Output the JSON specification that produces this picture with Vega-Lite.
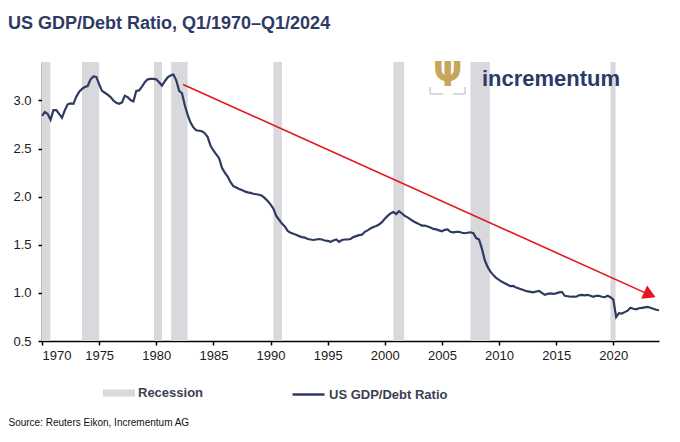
{
  "$schema": "https://vega.github.io/schema/vega-lite/v6.json",
  "width": 617,
  "height": 279,
  "autosize": {"type": "none"},
  "padding": {"left": 42, "top": 62, "right": 21, "bottom": 101},
  "background": "white",
  "title": {
    "text": "US GDP/Debt Ratio, Q1/1970–Q1/2024",
    "anchor": "start",
    "frame": "bounds",
    "font": "Liberation Sans",
    "fontSize": 18,
    "fontWeight": "bold",
    "color": "#2d3a64",
    "baseline": "alphabetic",
    "offset": 12
  },
  "config": {
    "view": {"stroke": null},
    "axis": {
      "grid": false,
      "domainColor": "#000000",
      "domainWidth": 1.5,
      "tickColor": "#000000",
      "tickWidth": 1.5,
      "tickSize": 4,
      "labelFont": "Liberation Sans",
      "labelFontSize": 13,
      "labelColor": "#1a1a1a"
    }
  },
  "layer": [
    {
      "data": {"values": [
        {"start": 1970.0, "end": 1970.73},
        {"start": 1973.5, "end": 1975.0},
        {"start": 1979.8, "end": 1980.5},
        {"start": 1981.3, "end": 1982.75},
        {"start": 1990.25, "end": 1991.0},
        {"start": 2000.75, "end": 2001.7},
        {"start": 2007.5, "end": 2009.2},
        {"start": 2019.75, "end": 2020.2}
      ]},
      "mark": {"type": "rect"},
      "encoding": {
        "x": {"field": "start", "type": "quantitative", "scale": {"domain": [1970, 2024], "nice": false, "zero": false}},
        "x2": {"field": "end"},
        "fill": {
          "datum": "Recession",
          "scale": {"range": ["#d9d8dd"]},
          "legend": {
            "title": null, "orient": "none", "legendX": 61, "legendY": 315,
            "symbolType": "M-1,-0.22H1V0.22H-1Z", "symbolSize": 1024, "symbolStrokeWidth": 0,
            "labelFont": "Liberation Sans", "labelFontWeight": "bold", "labelFontSize": 13,
            "labelColor": "#3b3f50", "labelOffset": 3, "padding": 0
          }
        }
      }
    },
    {
      "data": {"values": [
        {"year":1970.00,"ratio":2.84},{"year":1970.25,"ratio":2.88},{"year":1970.50,"ratio":2.86},{"year":1970.75,"ratio":2.80},
        {"year":1971.00,"ratio":2.90},{"year":1971.25,"ratio":2.90},{"year":1971.50,"ratio":2.86},{"year":1971.75,"ratio":2.82},
        {"year":1972.00,"ratio":2.90},{"year":1972.25,"ratio":2.96},{"year":1972.50,"ratio":2.97},{"year":1972.75,"ratio":2.965},
        {"year":1973.00,"ratio":3.04},{"year":1973.25,"ratio":3.09},{"year":1973.50,"ratio":3.12},{"year":1973.75,"ratio":3.14},
        {"year":1974.00,"ratio":3.15},{"year":1974.25,"ratio":3.22},{"year":1974.50,"ratio":3.25},{"year":1974.75,"ratio":3.245},
        {"year":1975.00,"ratio":3.17},{"year":1975.25,"ratio":3.10},{"year":1975.50,"ratio":3.08},{"year":1975.75,"ratio":3.06},
        {"year":1976.00,"ratio":3.035},{"year":1976.25,"ratio":3.00},{"year":1976.50,"ratio":2.975},{"year":1976.75,"ratio":2.965},
        {"year":1977.00,"ratio":2.98},{"year":1977.25,"ratio":3.05},{"year":1977.50,"ratio":3.035},{"year":1977.75,"ratio":3.005},
        {"year":1978.00,"ratio":2.99},{"year":1978.25,"ratio":3.10},{"year":1978.50,"ratio":3.105},{"year":1978.75,"ratio":3.145},
        {"year":1979.00,"ratio":3.19},{"year":1979.25,"ratio":3.22},{"year":1979.50,"ratio":3.225},{"year":1979.75,"ratio":3.225},
        {"year":1980.00,"ratio":3.22},{"year":1980.25,"ratio":3.19},{"year":1980.50,"ratio":3.155},{"year":1980.75,"ratio":3.20},
        {"year":1981.00,"ratio":3.24},{"year":1981.25,"ratio":3.26},{"year":1981.50,"ratio":3.27},{"year":1981.75,"ratio":3.21},
        {"year":1982.00,"ratio":3.10},{"year":1982.25,"ratio":3.075},{"year":1982.50,"ratio":2.95},{"year":1982.75,"ratio":2.85},
        {"year":1983.00,"ratio":2.77},{"year":1983.25,"ratio":2.72},{"year":1983.50,"ratio":2.69},{"year":1983.75,"ratio":2.685},
        {"year":1984.00,"ratio":2.68},{"year":1984.25,"ratio":2.66},{"year":1984.50,"ratio":2.62},{"year":1984.75,"ratio":2.53},
        {"year":1985.00,"ratio":2.48},{"year":1985.25,"ratio":2.44},{"year":1985.50,"ratio":2.40},{"year":1985.75,"ratio":2.30},
        {"year":1986.00,"ratio":2.25},{"year":1986.25,"ratio":2.21},{"year":1986.50,"ratio":2.15},{"year":1986.75,"ratio":2.11},
        {"year":1987.00,"ratio":2.095},{"year":1987.25,"ratio":2.08},{"year":1987.50,"ratio":2.07},{"year":1987.75,"ratio":2.055},
        {"year":1988.00,"ratio":2.045},{"year":1988.25,"ratio":2.04},{"year":1988.50,"ratio":2.03},{"year":1988.75,"ratio":2.025},
        {"year":1989.00,"ratio":2.02},{"year":1989.25,"ratio":2.01},{"year":1989.50,"ratio":1.985},{"year":1989.75,"ratio":1.955},
        {"year":1990.00,"ratio":1.92},{"year":1990.25,"ratio":1.875},{"year":1990.50,"ratio":1.80},{"year":1990.75,"ratio":1.76},
        {"year":1991.00,"ratio":1.72},{"year":1991.25,"ratio":1.69},{"year":1991.50,"ratio":1.645},{"year":1991.75,"ratio":1.625},
        {"year":1992.00,"ratio":1.615},{"year":1992.25,"ratio":1.605},{"year":1992.50,"ratio":1.59},{"year":1992.75,"ratio":1.58},
        {"year":1993.00,"ratio":1.575},{"year":1993.25,"ratio":1.56},{"year":1993.50,"ratio":1.555},{"year":1993.75,"ratio":1.55},
        {"year":1994.00,"ratio":1.555},{"year":1994.25,"ratio":1.56},{"year":1994.50,"ratio":1.555},{"year":1994.75,"ratio":1.545},
        {"year":1995.00,"ratio":1.54},{"year":1995.25,"ratio":1.53},{"year":1995.50,"ratio":1.545},{"year":1995.75,"ratio":1.555},
        {"year":1996.00,"ratio":1.53},{"year":1996.25,"ratio":1.55},{"year":1996.50,"ratio":1.555},{"year":1996.75,"ratio":1.555},
        {"year":1997.00,"ratio":1.56},{"year":1997.25,"ratio":1.58},{"year":1997.50,"ratio":1.59},{"year":1997.75,"ratio":1.60},
        {"year":1998.00,"ratio":1.605},{"year":1998.25,"ratio":1.635},{"year":1998.50,"ratio":1.65},{"year":1998.75,"ratio":1.67},
        {"year":1999.00,"ratio":1.685},{"year":1999.25,"ratio":1.695},{"year":1999.50,"ratio":1.71},{"year":1999.75,"ratio":1.735},
        {"year":2000.00,"ratio":1.77},{"year":2000.25,"ratio":1.80},{"year":2000.50,"ratio":1.825},{"year":2000.75,"ratio":1.84},
        {"year":2001.00,"ratio":1.82},{"year":2001.25,"ratio":1.85},{"year":2001.50,"ratio":1.825},{"year":2001.75,"ratio":1.80},
        {"year":2002.00,"ratio":1.785},{"year":2002.25,"ratio":1.765},{"year":2002.50,"ratio":1.745},{"year":2002.75,"ratio":1.73},
        {"year":2003.00,"ratio":1.715},{"year":2003.25,"ratio":1.70},{"year":2003.50,"ratio":1.70},{"year":2003.75,"ratio":1.69},
        {"year":2004.00,"ratio":1.68},{"year":2004.25,"ratio":1.665},{"year":2004.50,"ratio":1.66},{"year":2004.75,"ratio":1.65},
        {"year":2005.00,"ratio":1.64},{"year":2005.25,"ratio":1.655},{"year":2005.50,"ratio":1.66},{"year":2005.75,"ratio":1.635},
        {"year":2006.00,"ratio":1.63},{"year":2006.25,"ratio":1.635},{"year":2006.50,"ratio":1.635},{"year":2006.75,"ratio":1.625},
        {"year":2007.00,"ratio":1.62},{"year":2007.25,"ratio":1.625},{"year":2007.50,"ratio":1.63},{"year":2007.75,"ratio":1.62},
        {"year":2008.00,"ratio":1.57},{"year":2008.25,"ratio":1.555},{"year":2008.50,"ratio":1.46},{"year":2008.75,"ratio":1.34},
        {"year":2009.00,"ratio":1.27},{"year":2009.25,"ratio":1.22},{"year":2009.50,"ratio":1.185},{"year":2009.75,"ratio":1.155},
        {"year":2010.00,"ratio":1.135},{"year":2010.25,"ratio":1.115},{"year":2010.50,"ratio":1.10},{"year":2010.75,"ratio":1.085},
        {"year":2011.00,"ratio":1.07},{"year":2011.25,"ratio":1.072},{"year":2011.50,"ratio":1.055},{"year":2011.75,"ratio":1.045},
        {"year":2012.00,"ratio":1.035},{"year":2012.25,"ratio":1.025},{"year":2012.50,"ratio":1.015},{"year":2012.75,"ratio":1.01},
        {"year":2013.00,"ratio":1.005},{"year":2013.25,"ratio":1.015},{"year":2013.50,"ratio":1.02},{"year":2013.75,"ratio":1.00},
        {"year":2014.00,"ratio":0.98},{"year":2014.25,"ratio":0.99},{"year":2014.50,"ratio":0.995},{"year":2014.75,"ratio":0.99},
        {"year":2015.00,"ratio":0.995},{"year":2015.25,"ratio":1.005},{"year":2015.50,"ratio":1.01},{"year":2015.75,"ratio":0.97},
        {"year":2016.00,"ratio":0.965},{"year":2016.25,"ratio":0.96},{"year":2016.50,"ratio":0.962},{"year":2016.75,"ratio":0.96},
        {"year":2017.00,"ratio":0.975},{"year":2017.25,"ratio":0.98},{"year":2017.50,"ratio":0.975},{"year":2017.75,"ratio":0.98},
        {"year":2018.00,"ratio":0.97},{"year":2018.25,"ratio":0.96},{"year":2018.50,"ratio":0.97},{"year":2018.75,"ratio":0.97},
        {"year":2019.00,"ratio":0.96},{"year":2019.25,"ratio":0.955},{"year":2019.50,"ratio":0.97},{"year":2019.75,"ratio":0.955},
        {"year":2020.00,"ratio":0.93},{"year":2020.25,"ratio":0.75},{"year":2020.50,"ratio":0.79},{"year":2020.75,"ratio":0.785},
        {"year":2021.00,"ratio":0.80},{"year":2021.25,"ratio":0.815},{"year":2021.50,"ratio":0.845},{"year":2021.75,"ratio":0.835},
        {"year":2022.00,"ratio":0.83},{"year":2022.25,"ratio":0.84},{"year":2022.50,"ratio":0.845},{"year":2022.75,"ratio":0.85},
        {"year":2023.00,"ratio":0.855},{"year":2023.25,"ratio":0.845},{"year":2023.50,"ratio":0.835},{"year":2023.75,"ratio":0.825},
        {"year":2024.00,"ratio":0.82}
      ]},
      "mark": {"type": "line", "strokeWidth": 2.2},
      "encoding": {
        "x": {
          "field": "year", "type": "quantitative",
          "scale": {"domain": [1970, 2024], "nice": false, "zero": false},
          "axis": {
            "values": [1970, 1975, 1980, 1985, 1990, 1995, 2000, 2005, 2010, 2015, 2020],
            "format": "d",
            "labelPadding": 4,
            "title": "Source: Reuters Eikon, Incrementum AG",
            "titleX": -34, "titleY": 84,
            "titleAlign": "left", "titleAnchor": "start", "titleBaseline": "alphabetic",
            "titleFont": "Liberation Sans", "titleFontSize": 10, "titleFontWeight": "normal", "titleColor": "#111111"
          }
        },
        "y": {
          "field": "ratio", "type": "quantitative",
          "scale": {"domain": [0.5, 3.4], "nice": false, "zero": false},
          "axis": {
            "values": [0.5, 1.0, 1.5, 2.0, 2.5, 3.0],
            "format": ".1f",
            "labelPadding": 7,
            "title": null
          }
        },
        "stroke": {
          "datum": "US GDP/Debt Ratio",
          "scale": {"range": ["#2e3a5f"]},
          "legend": {
            "title": null, "orient": "none", "legendX": 249, "legendY": 315,
            "symbolType": "stroke", "symbolSize": 1024, "symbolStrokeWidth": 2.5,
            "labelFont": "Liberation Sans", "labelFontWeight": "bold", "labelFontSize": 13,
            "labelColor": "#3b3f50", "labelOffset": 3, "padding": 0
          }
        }
      }
    },
    {
      "data": {"values": [{}]},
      "mark": {"type": "rule", "color": "#e3161d", "strokeWidth": 1.6},
      "encoding": {
        "x": {"datum": 1982.35, "type": "quantitative"},
        "y": {"datum": 3.166, "type": "quantitative"},
        "x2": {"datum": 2023.0},
        "y2": {"datum": 0.99}
      }
    },
    {
      "data": {"values": [{}]},
      "mark": {"type": "point", "shape": "triangle-right", "filled": true, "color": "#e3161d", "opacity": 1, "size": 210, "angle": 24},
      "encoding": {
        "x": {"datum": 2023.2, "type": "quantitative"},
        "y": {"datum": 0.982, "type": "quantitative"}
      }
    },
    {
      "data": {"values": [{}]},
      "mark": {"type": "text", "text": "incrementum", "align": "left", "baseline": "alphabetic", "font": "Liberation Sans", "fontWeight": "bold", "fontSize": 22, "color": "#2b3a67"},
      "encoding": {
        "x": {"datum": 2008.5, "type": "quantitative"},
        "y": {"datum": 3.148, "type": "quantitative"}
      }
    },
    {
      "data": {"values": [{}]},
      "mark": {"type": "text", "text": "Ψ", "align": "center", "baseline": "alphabetic", "font": "DejaVu Sans", "fontWeight": "bold", "fontSize": 34, "color": "#c6a65a"},
      "encoding": {
        "x": {"datum": 2005.5, "type": "quantitative"},
        "y": {"datum": 3.155, "type": "quantitative"}
      }
    },
    {
      "data": {"values": [{}]},
      "mark": {"type": "rule", "color": "#cdcdd1", "strokeWidth": 1.5},
      "encoding": {
        "x": {"datum": 2003.97, "type": "quantitative"},
        "y": {"datum": 3.14, "type": "quantitative"},
        "y2": {"datum": 3.068}
      }
    },
    {
      "data": {"values": [{}]},
      "mark": {"type": "rule", "color": "#cdcdd1", "strokeWidth": 1.5},
      "encoding": {
        "x": {"datum": 2003.97, "type": "quantitative"},
        "x2": {"datum": 2005.11},
        "y": {"datum": 3.068, "type": "quantitative"}
      }
    },
    {
      "data": {"values": [{}]},
      "mark": {"type": "rule", "color": "#cdcdd1", "strokeWidth": 1.5},
      "encoding": {
        "x": {"datum": 2007.03, "type": "quantitative"},
        "y": {"datum": 3.14, "type": "quantitative"},
        "y2": {"datum": 3.068}
      }
    },
    {
      "data": {"values": [{}]},
      "mark": {"type": "rule", "color": "#cdcdd1", "strokeWidth": 1.5},
      "encoding": {
        "x": {"datum": 2005.98, "type": "quantitative"},
        "x2": {"datum": 2007.03},
        "y": {"datum": 3.068, "type": "quantitative"}
      }
    }
  ]
}
